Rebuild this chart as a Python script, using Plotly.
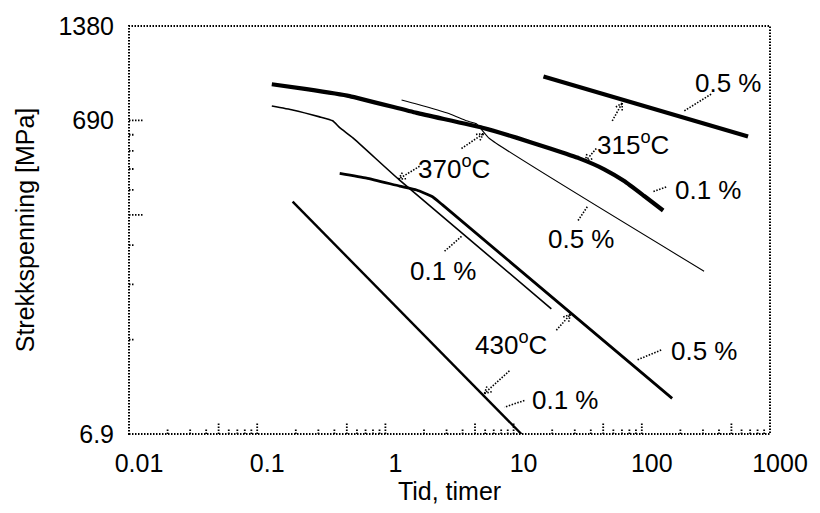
import math
import plotly.graph_objects as go

# ---------------- data (time in hours, stress in MPa) ----------------
t_315_05 = [17.1, 674]
s_315_05 = [953, 613]

t_315_01 = [0.130, 0.243, 0.526, 1.75, 5.71, 10.5, 19.0, 32.5, 50.9, 72.9, 104.4, 146.8]
s_315_01 = [900, 868, 825, 729, 654, 608, 562, 522, 482, 442, 396, 356]

t_370_05 = [1.337, 1.75, 3.16, 4.29, 5.13, 6.48, 306]
s_370_05 = [801, 778, 724, 688, 673, 604, 228]

t_370_01 = [0.130, 0.189, 0.307, 0.388, 0.440, 0.555, 1.29, 19.7]
s_370_01 = [767, 745, 708, 688, 654, 608, 445, 173]

t_430_05 = [0.440, 0.714, 1.29, 1.75, 2.33, 2.79, 172.5]
s_430_05 = [468, 452, 426, 414, 394, 371, 89.6]

t_430_01 = [0.189, 11.5]
s_430_01 = [380, 69]

x_tick_vals = [0.01, 0.1, 1, 10, 100, 1000]
x_tick_text = ["0.01", "0.1", "1", "10", "100", "1000"]
y_tick_vals = [69, 690, 1380]
y_tick_text = ["6.9", "690", "1380"]

X_RANGE = [-2, 3]
Y_MIN, Y_MAX = 69, 1380

# plot-area geometry in pixels
L, R, T, B = 129, 771, 24, 437
W, H = 820, 513
PW, PH = R - L, B - T

FONT = "Liberation Sans, Arial, sans-serif"
DOT = "1.5px,1.5px"


def xp_val(t):
    return (math.log10(t) - X_RANGE[0]) / (X_RANGE[1] - X_RANGE[0])


def yp_val(s):
    return (math.log10(s) - math.log10(Y_MIN)) / (math.log10(Y_MAX) - math.log10(Y_MIN))


def ppx(px):
    return (px - L) / PW


def ppy(py):
    return (B - py) / PH


fig = go.Figure()

series = [
    (t_315_05, s_315_05, 4.2),
    (t_315_01, s_315_01, 4.2),
    (t_370_05, s_370_05, 1.1),
    (t_370_01, s_370_01, 1.6),
    (t_430_05, s_430_05, 2.8),
    (t_430_01, s_430_01, 2.4),
]
for tx, sy, w in series:
    fig.add_trace(go.Scatter(x=tx, y=sy, mode="lines",
                             line=dict(color="black", width=w, shape="spline", smoothing=0.4),
                             showlegend=False, hoverinfo="skip"))

shapes = []
# dotted frame
shapes.append(dict(type="rect", xref="paper", yref="paper", x0=0, x1=1, y0=0, y1=1,
                   line=dict(color="black", width=2, dash=DOT)))

# dotted ticks on x axis
for dec in range(X_RANGE[0], X_RANGE[1]):
    for k in range(1, 10):
        v = k * 10 ** dec
        if k == 1 and dec == X_RANGE[0]:
            continue
        ln = 12 if k in (1, 5) else 5
        xx = xp_val(v)
        shapes.append(dict(type="line", xref="paper", yref="paper",
                           x0=xx, x1=xx, y0=0, y1=ln / PH,
                           line=dict(color="black", width=1.8, dash=DOT)))
# dotted ticks on y axis
for v in [138, 207, 276, 345, 414, 483, 552, 621, 690]:
    ln = 15 if v in (345, 690) else 6
    yy = yp_val(v)
    shapes.append(dict(type="line", xref="paper", yref="paper",
                       x0=0, x1=ln / PW, y0=yy, y1=yy,
                       line=dict(color="black", width=1.8, dash=DOT)))


def leader(p0, p1, head=False):
    shapes.append(dict(type="line", xref="paper", yref="paper",
                       x0=ppx(p0[0]), y0=ppy(p0[1]), x1=ppx(p1[0]), y1=ppy(p1[1]),
                       line=dict(color="black", width=1.6, dash=DOT)))
    if head:
        ang = math.atan2(p1[1] - p0[1], p1[0] - p0[0])
        for da in (0.5, -0.5):
            a = ang + math.pi + da
            hx = p1[0] + 8 * math.cos(a)
            hy = p1[1] + 8 * math.sin(a)
            shapes.append(dict(type="line", xref="paper", yref="paper",
                               x0=ppx(p1[0]), y0=ppy(p1[1]), x1=ppx(hx), y1=ppy(hy),
                               line=dict(color="black", width=1.6, dash=DOT)))


# leaders (pixel positions of label-side and curve-side ends)
leader((613, 120), (623, 102), True)
leader((597, 148), (586, 161), True)
leader((712, 93), (685, 110))
leader((667, 187), (653, 192))
leader((462, 148), (484, 133), True)
leader((420, 166), (399, 179), True)
leader((588, 207), (578, 222))
leader((462, 237), (445, 252))
leader((557, 332), (571, 316), True)
leader((510, 373), (485, 396), True)
leader((662, 352), (638, 362))
leader((525, 403), (505, 410))

labels = [
    ("0.5 %", 729, 82),
    ("315<sup>o</sup>C", 634, 143),
    ("0.1 %", 709, 190),
    ("370<sup>o</sup>C", 455, 167),
    ("0.5 %", 582, 240),
    ("0.1 %", 444, 272),
    ("430<sup>o</sup>C", 512, 345),
    ("0.5 %", 705, 353),
    ("0.1 %", 566, 403),
]
annotations = []
for txt, px, py in labels:
    annotations.append(dict(text=txt, xref="paper", yref="paper",
                            x=ppx(px), y=ppy(py), xanchor="center", yanchor="middle",
                            showarrow=False, font=dict(family=FONT, size=26, color="black")))

fig.update_layout(
    width=W, height=H,
    margin=dict(l=L, r=W - R, t=T, b=H - B),
    paper_bgcolor="white", plot_bgcolor="white",
    shapes=shapes, annotations=annotations,
    font=dict(family=FONT, color="black"),
    xaxis=dict(type="log", range=X_RANGE, showgrid=False, zeroline=False, showline=False,
               tickmode="array", tickvals=x_tick_vals, ticktext=x_tick_text, ticks="",
               tickfont=dict(family=FONT, size=25), ticklabelstandoff=12, ticklabelshift=10,
               title=dict(text="Tid, timer", font=dict(family=FONT, size=25), standoff=6)),
    yaxis=dict(type="log", range=[math.log10(Y_MIN), math.log10(Y_MAX)], showgrid=False,
               zeroline=False, showline=False,
               tickmode="array", tickvals=y_tick_vals, ticktext=y_tick_text, ticks="",
               tickfont=dict(family=FONT, size=25), ticklabelstandoff=14,
               title=dict(text="Strekkspenning [MPa]", font=dict(family=FONT, size=25), standoff=16)),
)

fig.write_html("out.html")
